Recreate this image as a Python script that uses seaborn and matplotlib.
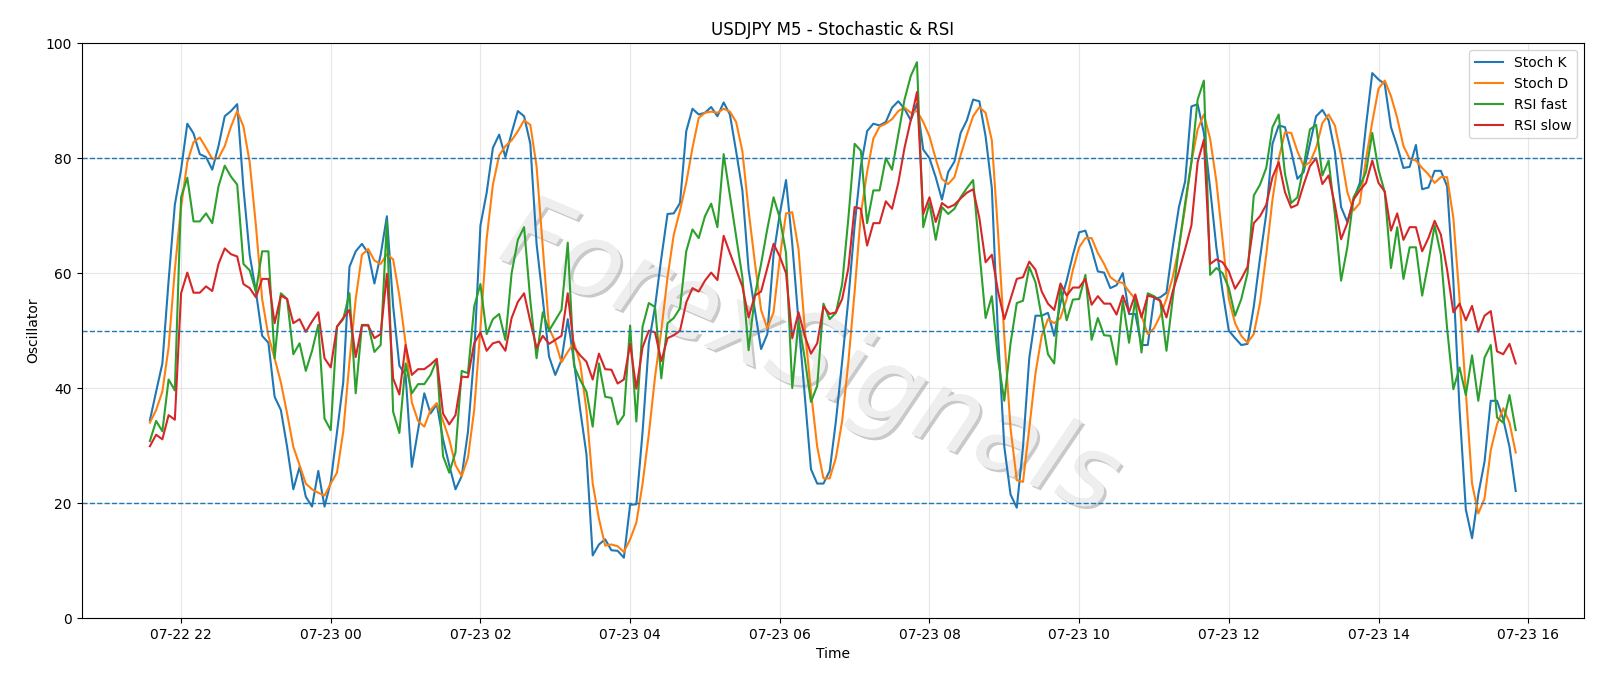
import pandas as pd
import numpy as np
import matplotlib
matplotlib.use("Agg")
import matplotlib.pyplot as plt
import matplotlib.dates as mdates
import matplotlib.patheffects as pe
import seaborn as sns

# 5 minute bars, 07-22 21:35 -> 07-23 15:50
start_time = "2025-07-22 21:35"
n_bars = 220

stoch_k = [
    34.4, 39.4, 44.3, 58.7, 71.9, 78, 86, 84.3, 80.7, 80.2, 78, 82.1, 87.3, 88.2, 89.4, 74.8, 63.2, 56.8, 49.1, 47.9,
    38.5, 36.2, 29.8, 22.4, 26.3, 21.1, 19.4, 25.6,
    19.4, 23.7, 32.4, 41, 61.1, 63.8, 65.1, 63.5, 58.2, 63.2, 69.9, 54.3, 43.9, 42.3, 26.3, 32.7, 39.1, 35.6, 37.2,
    31.1, 26.6, 22.4, 24.7, 32.4, 45.9, 68.3, 74,
    81.8, 84.1, 80.2, 84.4, 88.2, 87.3, 82.5, 65.1, 55.5, 45.5, 42.3, 44.9, 52, 44.6, 36.2, 28.5, 10.9, 12.8, 13.7,
    11.8, 11.7, 10.5, 19.7, 19.8, 32.4, 47.8, 54.2, 62.6,
    70.3, 70.4, 72.2, 84.7, 88.6, 87.6, 87.9, 88.9, 87.3, 89.7, 87.6, 81.2, 74.4, 60.6, 53.6, 46.8, 49.4, 63.2, 70.3,
    76.2, 65.1, 51.6, 38.8, 25.9, 23.4, 23.4, 25.6,
    34.3, 44.6, 55.5, 68.3, 78.6, 84.7, 86, 85.7, 86.3, 88.8, 89.9, 88.6, 86.6, 89.5, 81.5, 80, 76.7, 72.8, 77.6,
    79.4, 84.4, 86.6, 90.2, 89.9, 83.8, 74.8, 49,
    29.8, 21.5, 19.2, 29.8, 45.2, 52.6, 52.6, 53.1, 49.1, 54.8, 58.7, 63.2, 67.1, 67.4, 64.2, 60.3, 60.1, 57.4, 57.9,
    60, 52.9, 52.9, 47.5, 47.5, 55.5, 55.8, 56.6,
    64.5, 71.5, 76, 89, 89.4, 84.4, 74.8, 64.5, 56.8, 50, 48.7, 47.5, 47.7, 54.2, 62.6, 70.3, 82.5, 85.7, 85.4, 81.2,
    76.4, 77.6, 82.5, 87.3, 88.4, 86.6, 81.2, 71.5,
    68.9, 72.8, 75.7, 85.7, 94.8, 93.7, 92.9, 85.4, 82.1, 78.3, 78.5, 82.3, 74.6, 74.9, 77.8, 77.8, 75.1, 58.7, 36.2,
    18.9, 13.9, 21.5, 27.2, 37.8, 37.8, 34.6, 29.8, 22.1,
]

stoch_d = [
    34, 36.2, 39.4, 47.1, 60.6, 71.5, 79.3, 82.8, 83.6, 81.8, 79.9, 80, 82.1, 85.5, 88.2, 85.5, 79.3, 68.3, 55.5, 49.1,
    45.2, 41, 35.6, 29.8, 26.6, 23.4, 22.4, 21.8,
    21.3, 23.4, 25.3, 32.4, 44.6, 55.5, 63.2, 64.2, 62.2, 61.6, 63.3, 62.4, 56.1, 47.8, 37.5, 34.3, 33.3, 36.2, 37.4,
    34.3, 31.1, 26.6, 24.7, 27.9, 36.2, 50.4, 66,
    75.4, 80.5, 82.1, 83.1, 84.7, 86.6, 85.8, 78.6, 64.5, 50.4, 48.1, 44.5, 46.3, 47.9, 44.3, 36.2, 23.4, 17.3, 12.6,
    12.8, 12.5, 11.5, 13.7, 16.6, 23.4, 32, 42, 50,
    59.3, 66.7, 70.9, 75.7, 81.8, 87, 87.9, 88.1, 87.9, 88.6, 88.1, 86.3, 81.2, 70.9, 61.9, 53.6, 50.4, 53.2, 62.6,
    70.4, 70.6, 64.2, 50.4, 39.4, 29.8, 24.3, 24.3,
    27.9, 34.3, 44.6, 56.8, 70.3, 77.6, 83.4, 85.5, 86, 86.8, 88.2, 88.8, 87.9, 88.2, 86.3, 83.8, 79.9, 76.4, 75.5,
    76.7, 80.5, 84.1, 87.3, 88.9, 87.9, 83.1, 67,
    49, 33, 24, 23.7, 33, 42.6, 49.1, 52, 51.3, 52.2, 55.5, 60.6, 64.5, 66.1, 66.1, 63.5, 61.6, 59.3, 58.5, 58.3,
    56.8, 55.5, 52.6, 49.4, 50.4, 52.6, 55.5,
    59.3, 64.5, 71.5, 79.3, 85, 87.6, 83.4, 76, 65.8, 55.5, 51.3, 49.1, 47.9, 49.4, 54.8, 63.2, 72.8, 79.9, 84.5,
    84.4, 81.2, 78.6, 79.3, 81.8, 86.1, 87.6, 85.7, 80.5,
    74.1, 70.9, 72.2, 79.9, 86.3, 92.1, 93.5, 90.8, 87, 82.1, 79.9, 79.6, 78.3, 77.2, 75.7, 76.7, 76.7, 69.6, 55.5,
    39.4, 23.4, 18.2, 20.8, 29.2, 33.7, 36.5, 34, 28.8,
]

rsi_fast = [
    30.8, 34.3, 32.5, 41.5, 39.6, 73.2, 76.6, 69, 69, 70.4, 68.7, 75.1, 78.7, 76.8, 75.4, 61.6, 60.5, 56.8, 63.8, 63.8,
    45.2, 56.5, 55.5, 45.9, 47.8, 43, 46.5, 51,
    34.7, 32.7, 50.7, 52, 56.5, 39.1, 51, 51, 46.3, 47.5, 69, 35.9, 32.2, 44.3, 39.1, 40.7, 40.7, 42.3, 44.9, 28.2,
    25.3, 28.8, 43, 42.6, 54.2, 58.1, 49.4,
    52, 52.9, 48.4, 60, 65.8, 68, 55.2, 45.2, 53.2, 50, 51.8, 53.6, 65.3, 43.9, 41.4, 39.4, 33.3, 44.3, 38.5, 38.3,
    33.7, 35.3, 50.9, 34.2, 50.7, 54.8, 54.1, 41.7,
    51.3, 52.2, 53.9, 63.8, 67.6, 66.1, 69.9, 72.1, 68, 80.7, 73.5, 66.4, 59.3, 46.6, 56.1, 61.6, 67.7, 73.2, 69.6,
    63.5, 40, 51.6, 45.2, 37.6, 40.4, 54.7, 52,
    53.1, 58.1, 69.6, 82.5, 81.3, 68.7, 74.4, 74.4, 80, 78, 84.1, 90.2, 94.3, 96.7, 68, 72.2, 65.8, 71.5, 70.3, 71.2,
    73.2, 74.8, 76.2, 63.8, 52.2, 56, 45,
    37.8, 47.8, 54.8, 55.2, 61.1, 58.4, 52.3, 45.9, 44.3, 57.7, 51.8, 55.4, 55.5, 59.7, 48.4, 52.2, 49.2, 49.1, 44.1,
    55.2, 47.9, 55.5, 46.2, 56.5, 56, 55.2, 46.5,
    55.5, 64.5, 72.2, 79.3, 90.2, 93.5, 59.7, 60.9, 60, 57.4, 52.6, 55.5, 60, 73.5, 75.4, 78.3, 85.4, 87.6, 77.3,
    72.2, 73.2, 78.6, 85, 85.8, 77, 79.6, 70.3, 58.7,
    64.5, 73.2, 75.1, 77.6, 84.4, 78, 74.1, 60.9, 68, 59, 64.5, 64.5, 56.1, 61.9, 68.3, 63.2, 50.4, 39.8, 43.6, 38.8,
    45.7, 37.8, 45.3, 47.5, 34.9, 34, 38.8, 32.7,
]

rsi_slow = [
    29.9, 31.9, 31.1, 35.3, 34.5, 56.5, 60.1, 56.6, 56.6, 57.7, 56.9, 61.6, 64.3, 63.3, 62.9, 58.1, 57.4, 55.8, 59, 59,
    51.3, 56.1, 55.5, 51.3, 52, 49.8, 51.6, 53.2,
    45.2, 43.6, 50.7, 52.2, 53.6, 45.4, 50.9, 50.9, 48.7, 49.4, 59.9, 41.7, 38.9, 47.5, 42.3, 43.3, 43.3, 44.1, 45.1,
    35.6, 33.7, 35.3, 42, 41.9, 47.8, 49.7, 46.5,
    47.8, 48.1, 46.5, 52.2, 55, 56.5, 51.6, 47, 49.1, 47.7, 48.4, 49.1, 56.5, 47.1, 45.7, 44.6, 41.5, 46, 43.3, 43.2,
    40.8, 41.5, 47.7, 39.9, 47.1, 50, 49.7, 44.7,
    48.7, 49.2, 50, 54.9, 57.4, 56.8, 58.7, 60.1, 58.8, 66.5, 63.5, 60.6, 57.7, 52.3, 56.1, 56.8, 60.9, 65.1, 62.9,
    60, 48.7, 53.2, 49.1, 46, 47.8, 54.2, 52.9,
    53.2, 55.5, 60.9, 71.5, 71.2, 64.8, 68.7, 68.7, 72.5, 71.2, 75.7, 81.8, 86.6, 91.5, 70.3, 73.2, 68.9, 72.2, 71.4,
    71.9, 73, 74, 74.6, 69.6, 61.9, 63.2, 56.8,
    52, 55.5, 59, 59.3, 62, 60.6, 56.8, 54.7, 53.6, 58.2, 56.1, 57.5, 57.5, 59, 54.5, 56, 54.7, 54.7, 52.8, 56.1,
    53.2, 56.3, 52.3, 56.1, 55.8, 55.2, 52.3,
    56.8, 60.3, 64.2, 68.3, 79.3, 83.2, 61.6, 62.4, 61.9, 60.3, 57.3, 59, 61.1, 68.7, 69.9, 71.9, 76.7, 79.3, 74.1,
    71.4, 71.9, 75.4, 78.6, 80, 75.5, 77, 71.9, 65.9,
    68.7, 72.8, 74.4, 75.7, 79.6, 75.7, 74.2, 67.4, 70.4, 65.8, 68, 68, 63.8, 66.1, 69.1, 66.7, 60.6, 53.2, 54.7,
    51.8, 54.3, 49.8, 52.6, 53.4, 46.4, 45.9, 47.7, 44.3,
]

levels = [20, 50, 80]

times = pd.date_range(start_time, periods=n_bars, freq="5min")
df = pd.DataFrame({
    "time": times,
    "Stoch K": stoch_k,
    "Stoch D": stoch_d,
    "RSI fast": rsi_fast,
    "RSI slow": rsi_slow,
})

fig, ax = plt.subplots(figsize=(16, 6.86), dpi=100)
fig.subplots_adjust(left=0.051, right=0.99, bottom=0.099, top=0.937)

for col in ["Stoch K", "Stoch D", "RSI fast", "RSI slow"]:
    sns.lineplot(data=df, x="time", y=col, label=col, ax=ax, linewidth=1.5)

for lv in levels:
    ax.axhline(lv, color="tab:blue", linestyle="--", linewidth=1)

# watermark, light text with a soft shadow behind the lines
ax.text(0.485, 0.45, "ForexSignals", transform=ax.transAxes, fontsize=74,
        color="#eeeeee", style="italic", fontweight="light", rotation=-23,
        ha="center", va="center", zorder=0,
        path_effects=[pe.withSimplePatchShadow(offset=(2, -2), shadow_rgbFace="#888888", alpha=0.45),
                      pe.Normal()])

ax.set_ylim(0, 100)
ax.xaxis.set_major_locator(mdates.HourLocator(byhour=range(0, 24, 2)))
ax.xaxis.set_major_formatter(mdates.DateFormatter("%m-%d %H"))
ax.grid(True, alpha=0.3)
ax.set_title("USDJPY M5 - Stochastic & RSI")
ax.set_xlabel("Time")
ax.set_ylabel("Oscillator")
ax.legend(loc="upper right")

plt.savefig("out.png", dpi=100)
